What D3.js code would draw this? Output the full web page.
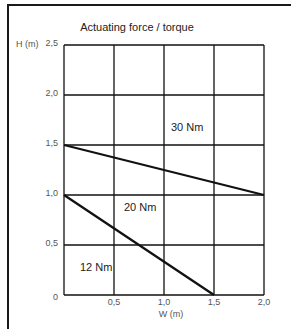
<!DOCTYPE html>
<html lang="en">
	<head>
		<meta charset="UTF-8">
		<title>Actuating force / torque</title>
		<style>
			body, html {
				margin: 0;
				padding: 0;
				background-color: #ffffff;
			}
		</style>
	</head>
	<body>
		<svg id="svg" width="291" height="329"></svg>

		<script src="https://d3js.org/d3.v7.min.js"></script>
		<script>
			// curves: width W (m) vs height H (m)
			const line30 = [[0, 1.5], [2.0, 1.0]]
			const line12 = [[0, 1.0], [1.5, 0]]
			const xTicks = [0, 0.5, 1.0, 1.5, 2.0]
			const yTicks = [0, 0.5, 1.0, 1.5, 2.0, 2.5]
			const areaLabels = [
				{ text: '30 Nm', w: 1.07, h: 1.64 },
				{ text: '20 Nm', w: 0.6, h: 0.84 },
				{ text: '12 Nm', w: 0.16, h: 0.24 }
			]
			const fmt = v => v === 0 ? '0' : d3.format('.1f')(v).replace('.', ',')

			const svg = d3.select('#svg')
			const x = d3.scaleLinear().domain([0, 2]).range([64, 264])
			const y = d3.scaleLinear().domain([0, 2.5]).range([295, 45])

			// outer frame, runs off the page on the right and bottom
			svg.append('rect')
				.attr('x', 8).attr('y', 5)
				.attr('width', 300).attr('height', 340)
				.attr('fill', 'none')
				.attr('stroke', '#1a1a1a')
				.attr('stroke-width', 2)

			svg.append('text')
				.attr('x', 137).attr('y', 31)
				.attr('text-anchor', 'middle')
				.attr('font-family', 'Liberation Sans, Arial, sans-serif')
				.attr('font-size', 11)
				.attr('fill', '#222')
				.text('Actuating force / torque')

			// grid
			const grid = svg.append('g').attr('stroke', '#111').attr('stroke-width', 1.3)
			grid.selectAll('.v').data(xTicks).enter().append('line')
				.attr('x1', d => x(d)).attr('x2', d => x(d))
				.attr('y1', y(0)).attr('y2', y(2.5))
			grid.selectAll('.h').data(yTicks).enter().append('line')
				.attr('x1', x(0)).attr('x2', x(2))
				.attr('y1', d => y(d)).attr('y2', d => y(d))

			const tickFont = g => g
				.attr('font-family', 'Liberation Sans, Arial, sans-serif')
				.attr('font-size', 9)
				.attr('fill', '#555')

			svg.append('g').call(tickFont)
				.selectAll('text').data(yTicks).enter().append('text')
				.attr('x', 58).attr('y', d => y(d) + (d === 0 ? 5 : 1))
				.attr('text-anchor', 'end')
				.text(fmt)

			svg.append('g').call(tickFont)
				.selectAll('text').data(xTicks.slice(1)).enter().append('text')
				.attr('x', d => x(d)).attr('y', 305)
				.attr('text-anchor', 'middle')
				.text(fmt)

			svg.append('text').call(tickFont)
				.attr('x', 16).attr('y', 47)
				.text('H (m)')
			svg.append('text').call(tickFont)
				.attr('x', 171).attr('y', 317)
				.attr('text-anchor', 'middle')
				.text('W (m)')

			// curves
			const path = d3.line().x(d => x(d[0])).y(d => y(d[1]))
			svg.selectAll('.curve').data([line30, line12]).enter().append('path')
				.attr('d', path)
				.attr('fill', 'none')
				.attr('stroke', '#111')
				.attr('stroke-width', 2.2)

			svg.selectAll('.lbl').data(areaLabels).enter().append('text')
				.attr('x', d => x(d.w)).attr('y', d => y(d.h))
				.attr('font-family', 'Liberation Sans, Arial, sans-serif')
				.attr('font-size', 11)
				.attr('fill', '#222')
				.text(d => d.text)
		</script>
	</body>
</html>
